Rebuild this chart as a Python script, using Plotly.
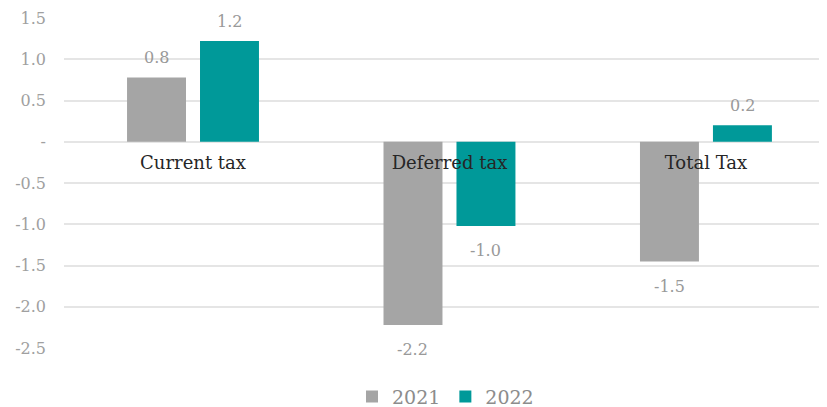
import plotly.graph_objects as go

categories = ["Current tax", "Deferred tax", "Total Tax"]
series_names = ["2021", "2022"]
values_2021 = [0.78, -2.22, -1.45]
values_2022 = [1.22, -1.02, 0.2]
labels_2021 = ["0.8", "-2.2", "-1.5"]
labels_2022 = ["1.2", "-1.0", "0.2"]
tick_vals = [1.5, 1.0, 0.5, 0, -0.5, -1.0, -1.5, -2.0, -2.5]
tick_text = ["1.5", "1.0", "0.5", "-", "-0.5", "-1.0", "-1.5", "-2.0", "-2.5"]

colors = ["#a5a5a5", "#009999"]
font_family = "DejaVu Serif, Liberation Serif, serif"
label_color = "#999999"

fig = go.Figure()
for name, vals, col in zip(series_names, [values_2021, values_2022], colors):
    fig.add_trace(go.Bar(x=categories, y=vals, name=name, marker_color=col,
                         marker_line_width=0, hoverinfo="skip"))

annotations = []
for vals, labs, shift in [(values_2021, labels_2021, -36.5), (values_2022, labels_2022, 36.5)]:
    for cat, v, lab in zip(categories, vals, labs):
        annotations.append(dict(
            x=cat, y=v, text=lab, showarrow=False, xshift=shift,
            yshift=20 if v >= 0 else -25, yanchor="middle",
            font=dict(family=font_family, size=16, color=label_color)))

# page body has an 8px default margin, so the figure is 8px smaller
fig.update_layout(
    width=819, height=399,
    margin=dict(l=56, r=0, t=10, b=59, autoexpand=False),
    paper_bgcolor="white", plot_bgcolor="white",
    barmode="group", bargap=0.431, bargroupgap=0.192,
    showlegend=True,
    legend=dict(orientation="h", x=0.5, xanchor="center", y=-0.09, yanchor="top",
                font=dict(family=font_family, size=19, color="#8c8c8c"),
                traceorder="normal"),
    annotations=annotations,
    font=dict(family=font_family),
)
fig.update_xaxes(
    range=[-0.503, 2.472], anchor="free", position=0.625,
    showgrid=False, showline=False, zeroline=False, ticks="",
    automargin=False, ticklabelstandoff=8,
    tickfont=dict(family=font_family, size=18, color="#262626"),
)
fig.update_yaxes(
    range=[-2.5, 1.5], tickvals=tick_vals, ticktext=tick_text,
    showgrid=True, gridcolor="#e5e5e5", gridwidth=2, zeroline=False,
    showline=False, ticks="", ticklabelstandoff=17, automargin=False,
    tickfont=dict(family=font_family, size=16, color="#a0a0a0"),
)

fig.write_html("out.html")
